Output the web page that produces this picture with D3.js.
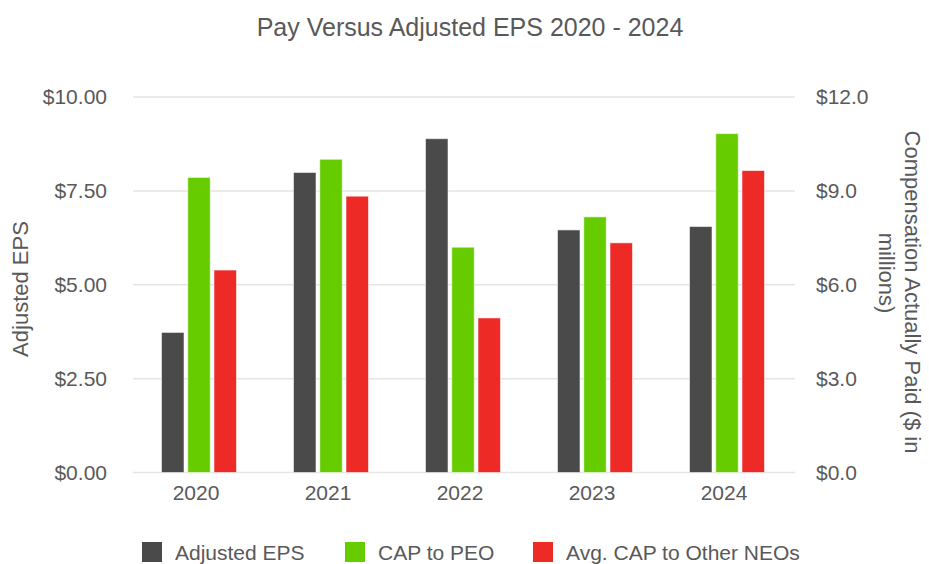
<!DOCTYPE html>
<html>
<head>
<meta charset="utf-8">
<script src="https://cdn.jsdelivr.net/npm/d3@7"></script>
<style>
  body { margin: 0; background: #fff; }
  svg text { font-family: "Liberation Sans", Arial, sans-serif; fill: #595959; }
</style>
</head>
<body>
<script>
(function() {

  const width = 929;
  const height = 564;

  // chart data
  const years = ["2020", "2021", "2022", "2023", "2024"];
  const seriesNames = ["Adjusted EPS", "CAP to PEO", "Avg. CAP to Other NEOs"];
  const seriesColors = ["#4a4a4a", "#66cc00", "#ee2a27"];
  const adjustedEPS = [3.73, 7.99, 8.89, 6.46, 6.55];      // left axis, $
  const capToPEO = [9.43, 10.01, 7.20, 8.17, 10.83];       // right axis, $M
  const avgCapOther = [6.47, 8.83, 4.94, 7.34, 9.65];      // right axis, $M
  const leftTicks = [0, 2.5, 5, 7.5, 10];
  const rightTicks = [0, 3, 6, 9, 12];

  const margin = { left: 133, right: 136, top: 97, bottom: 91.5 };

  let svg = d3.select("body").append("svg")
    .attr("width", width)
    .attr("height", height);

  // scales
  let x0 = d3.scaleBand()
    .domain(years)
    .range([margin.left, width - margin.right])
    .paddingInner(0.432)
    .paddingOuter(0.216);

  let x1 = d3.scaleBand()
    .domain(seriesNames)
    .range([0, x0.bandwidth()])
    .paddingInner(0.143);

  let yLeft = d3.scaleLinear()
    .domain([0, 10])
    .range([height - margin.bottom, margin.top]);

  let yRight = d3.scaleLinear()
    .domain([0, 12])
    .range([height - margin.bottom, margin.top]);

  // gridlines
  svg.append("g")
    .selectAll("line")
    .data(leftTicks)
    .enter()
    .append("line")
    .attr("x1", margin.left)
    .attr("x2", width - margin.right + 2)
    .attr("y1", d => yLeft(d))
    .attr("y2", d => yLeft(d))
    .attr("stroke", "#e5e5e5")
    .attr("stroke-width", 1.5);

  // left axis labels
  let leftAxis = d3.axisLeft(yLeft)
    .tickValues(leftTicks)
    .tickSize(0)
    .tickPadding(26)
    .tickFormat(d => "$" + d3.format(".2f")(d));
  let gl = svg.append("g")
    .attr("transform", "translate(" + margin.left + ",0)")
    .call(leftAxis);
  gl.select(".domain").remove();
  gl.selectAll("text").style("font-size", "21px").attr("fill", "#595959");

  // right axis labels
  let rightAxis = d3.axisRight(yRight)
    .tickValues(rightTicks)
    .tickSize(0)
    .tickPadding(23)
    .tickFormat(d => "$" + d3.format(".1f")(d));
  let gr = svg.append("g")
    .attr("transform", "translate(" + (width - margin.right) + ",0)")
    .call(rightAxis);
  gr.select(".domain").remove();
  gr.selectAll("text").style("font-size", "21px").attr("fill", "#595959");

  // x axis labels
  let xAxis = d3.axisBottom(x0).tickSize(0).tickPadding(13);
  let gx = svg.append("g")
    .attr("transform", "translate(0," + (height - margin.bottom) + ")")
    .call(xAxis);
  gx.select(".domain").remove();
  gx.selectAll("text")
    .style("font-size", "21px")
    .attr("fill", "#595959")
    .attr("dx", -3);

  // bars
  let rows = years.map((y, i) => ({
    year: y,
    values: [
      { name: seriesNames[0], y: yLeft(adjustedEPS[i]) },
      { name: seriesNames[1], y: yRight(capToPEO[i]) },
      { name: seriesNames[2], y: yRight(avgCapOther[i]) }
    ]
  }));

  let groups = svg.append("g")
    .selectAll("g")
    .data(rows)
    .enter()
    .append("g")
    .attr("transform", d => "translate(" + x0(d.year) + ",0)");

  groups.selectAll("rect")
    .data(d => d.values)
    .enter()
    .append("rect")
    .attr("x", d => x1(d.name))
    .attr("width", x1.bandwidth())
    .attr("y", d => d.y)
    .attr("height", d => yLeft(0) - d.y)
    .attr("fill", (d, i) => seriesColors[i])
    .attr("stroke", "rgba(255,255,255,0.55)")
    .attr("stroke-width", 1);

  // title
  svg.append("text")
    .attr("x", 470)
    .attr("y", 36)
    .attr("text-anchor", "middle")
    .style("font-size", "25px")
    .text("Pay Versus Adjusted EPS 2020 - 2024");

  // axis titles
  svg.append("text")
    .attr("transform", "translate(28,289)rotate(-90)")
    .attr("text-anchor", "middle")
    .style("font-size", "22px")
    .text("Adjusted EPS");

  svg.append("text")
    .attr("transform", "translate(905,292)rotate(90)")
    .attr("text-anchor", "middle")
    .style("font-size", "22px")
    .text("Compensation Actually Paid ($ in");

  svg.append("text")
    .attr("transform", "translate(879,273)rotate(90)")
    .attr("text-anchor", "middle")
    .style("font-size", "22px")
    .text("millions)");

  // legend
  const legendX = [142, 345, 533];
  let legend = svg.append("g")
    .selectAll("g")
    .data(seriesNames)
    .enter()
    .append("g")
    .attr("transform", (d, i) => "translate(" + legendX[i] + ",542)");

  legend.append("rect")
    .attr("width", 20)
    .attr("height", 20)
    .attr("fill", (d, i) => seriesColors[i]);

  legend.append("text")
    .attr("x", 33)
    .attr("y", 18)
    .style("font-size", "21px")
    .text(d => d);

})();
</script>
</body>
</html>
